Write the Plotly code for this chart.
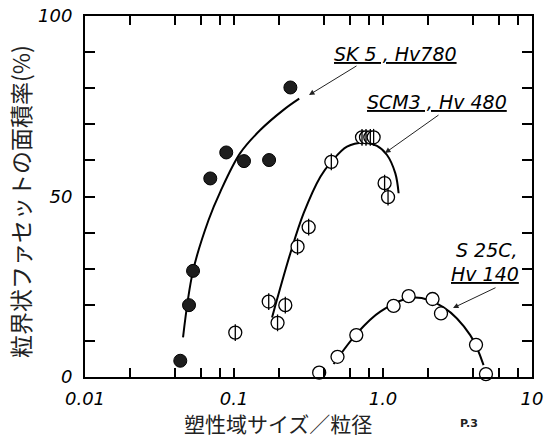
import numpy as np
import plotly.graph_objects as go

# ---- data ----
sk5_x = [0.0436, 0.0499, 0.0531, 0.0693, 0.0887, 0.1167, 0.172, 0.239]
sk5_y = [4.5, 19.9, 29.4, 55.0, 62.2, 59.8, 60.1, 80.2]
sk5_fit_x = [0.0455, 0.0531, 0.0675, 0.0809, 0.110, 0.150, 0.215, 0.274]
sk5_fit_y = [11.0, 29.4, 43.5, 51.3, 62.0, 68.4, 74.0, 77.1]

scm3_x = [0.102, 0.171, 0.196, 0.221, 0.267, 0.317, 0.450, 0.723, 0.769, 0.822, 0.865, 1.025, 1.081]
scm3_y = [12.3, 20.9, 15.0, 19.9, 36.1, 41.5, 59.6, 66.4, 66.4, 66.4, 66.4, 53.7, 49.8]
scm3_fit_x = [0.180, 0.239, 0.293, 0.380, 0.450, 0.573, 0.741, 0.911, 1.064, 1.210, 1.273]
scm3_fit_y = [16.5, 34.3, 45.3, 55.5, 59.6, 63.8, 64.9, 64.0, 61.5, 56.4, 50.9]

s25c_x = [0.373, 0.495, 0.662, 1.178, 1.486, 2.15, 2.45, 4.21, 4.91]
s25c_y = [1.2, 5.6, 11.6, 19.7, 22.4, 21.6, 17.6, 8.9, 0.8]
s25c_fit_x = [0.466, 0.669, 0.959, 1.604, 2.55, 3.85, 4.73]
s25c_fit_y = [3.6, 12.1, 18.1, 22.0, 19.3, 11.6, 3.3]

x_major = [0.01, 0.1, 1, 10]
x_major_text = ["0.01", "0.1", "1.0", "10"]
x_minor = [m * d for d in (0.01, 0.1, 1) for m in (2, 4, 6, 8)]
y_major = [0, 50, 100]
y_major_text = ["0", "50", "100"]
y_minor = list(range(0, 101, 10))

label_sk5 = "SK 5 , Hv780"
label_scm3 = "SCM3 , Hv 480"
label_s25c_1 = "S 25C,"
label_s25c_2 = "Hv 140"
x_title = "塑性域サイズ／粒径"
y_title = "粒界状ファセットの面積率(%)"
note = "P.3"

LAT = dict(family="DejaVu Sans", size=19, color="black", style="italic")
JP = dict(family="Noto Sans CJK JP", size=21, color="#222")

fig = go.Figure()
for fx, fy in [(sk5_fit_x, sk5_fit_y), (scm3_fit_x, scm3_fit_y), (s25c_fit_x, s25c_fit_y)]:
    fig.add_trace(go.Scatter(x=fx, y=fy, mode="lines", line=dict(color="black", width=2, shape="spline"),
                             showlegend=False, hoverinfo="skip"))

fig.add_trace(go.Scatter(x=sk5_x, y=sk5_y, mode="markers", cliponaxis=False, showlegend=False,
                         marker=dict(symbol="circle", size=13, color="#1e1e1e", line=dict(color="black", width=1))))
fig.add_trace(go.Scatter(x=scm3_x, y=scm3_y, mode="markers", cliponaxis=False, showlegend=False,
                         marker=dict(symbol="circle", size=13, color="white", line=dict(color="black", width=1.3))))
fig.add_trace(go.Scatter(x=scm3_x, y=scm3_y, mode="markers", cliponaxis=False, showlegend=False,
                         marker=dict(symbol="line-ns", size=12, color="black", line=dict(color="black", width=1.3))))
fig.add_trace(go.Scatter(x=s25c_x, y=s25c_y, mode="markers", cliponaxis=False, showlegend=False,
                         marker=dict(symbol="circle", size=13, color="white", line=dict(color="black", width=1.3))))

L, R, T, B = 85, 532, 16, 377
W, H = 555, 438


def px_to_paper(px, py):
    return (px - L) / (R - L), (B - py) / (B - T)


annots = []
# text labels
for txt, (px, py) in [(f"<u>{label_sk5}</u>", (395, 54)),
                      (f"<u>{label_scm3}</u>", (437, 102)),
                      (label_s25c_1, (487, 250)),
                      (f"<u>{label_s25c_2}</u>", (485, 274))]:
    xp, yp = px_to_paper(px, py)
    annots.append(dict(x=xp, y=yp, xref="paper", yref="paper", text=txt, showarrow=False,
                       font=LAT, xanchor="center", yanchor="middle"))

# arrows (tip in paper coords, tail offset in px)
for (tx, ty), (sx, sy) in [((309, 95), (358, 65)), ((385, 153), (440, 114)), ((453, 308), (497, 287))]:
    xp, yp = px_to_paper(tx, ty)
    annots.append(dict(x=xp, y=yp, xref="paper", yref="paper", text="", showarrow=True,
                       ax=sx - tx, ay=sy - ty, arrowhead=2, arrowsize=1.1, arrowwidth=1, arrowcolor="#222"))

xp, yp = px_to_paper(278, 423)
annots.append(dict(x=xp, y=yp, xref="paper", yref="paper", text=x_title, showarrow=False, font=JP,
                   xanchor="center", yanchor="middle", borderpad=0))
xp, yp = px_to_paper(20, 202)
annots.append(dict(x=xp, y=yp, xref="paper", yref="paper", text=y_title, showarrow=False,
                   font=dict(JP, size=23), textangle=-90, xanchor="center", yanchor="middle"))
xp, yp = px_to_paper(469, 423)
annots.append(dict(x=xp, y=yp, xref="paper", yref="paper", text=f"<b>{note}</b>", showarrow=False,
                   font=dict(family="DejaVu Sans", size=11, color="#222"), xanchor="center", yanchor="middle"))

fig.update_layout(
    width=W, height=H, margin=dict(l=L, r=W - R, t=T, b=H - B, autoexpand=False),
    paper_bgcolor="white", plot_bgcolor="white", showlegend=False,
    annotations=annots,
    xaxis=dict(type="log", range=[-2, 1], tickmode="array", tickvals=x_major, ticktext=x_major_text,
               automargin=False,
               ticks="inside", ticklen=9, tickwidth=1.5, tickcolor="black",
               showline=True, linewidth=2, linecolor="black", mirror="ticks", showgrid=False, zeroline=False,
               tickfont=dict(family="DejaVu Sans", size=18, color="black", style="italic"),
               ticklabelstandoff=4,
               minor=dict(tickmode="array", tickvals=x_minor, ticks="inside", ticklen=9, tickwidth=1.5,
                          tickcolor="black", showgrid=False)),
    yaxis=dict(range=[0, 100], tickmode="array", tickvals=y_major, ticktext=y_major_text,
               automargin=False,
               ticks="inside", ticklen=10, tickwidth=1.5, tickcolor="black",
               showline=True, linewidth=2, linecolor="black", mirror="ticks", showgrid=False, zeroline=False,
               tickfont=dict(family="DejaVu Sans", size=18, color="black", style="italic"),
               ticklabelstandoff=7,
               minor=dict(tickmode="array", tickvals=y_minor, ticks="inside", ticklen=10, tickwidth=1.5,
                          tickcolor="black", showgrid=False)),
)

fig.write_html("out.html", config={"displayModeBar": False},
               post_script="document.body.style.margin='0px';document.body.style.overflow='hidden';")
